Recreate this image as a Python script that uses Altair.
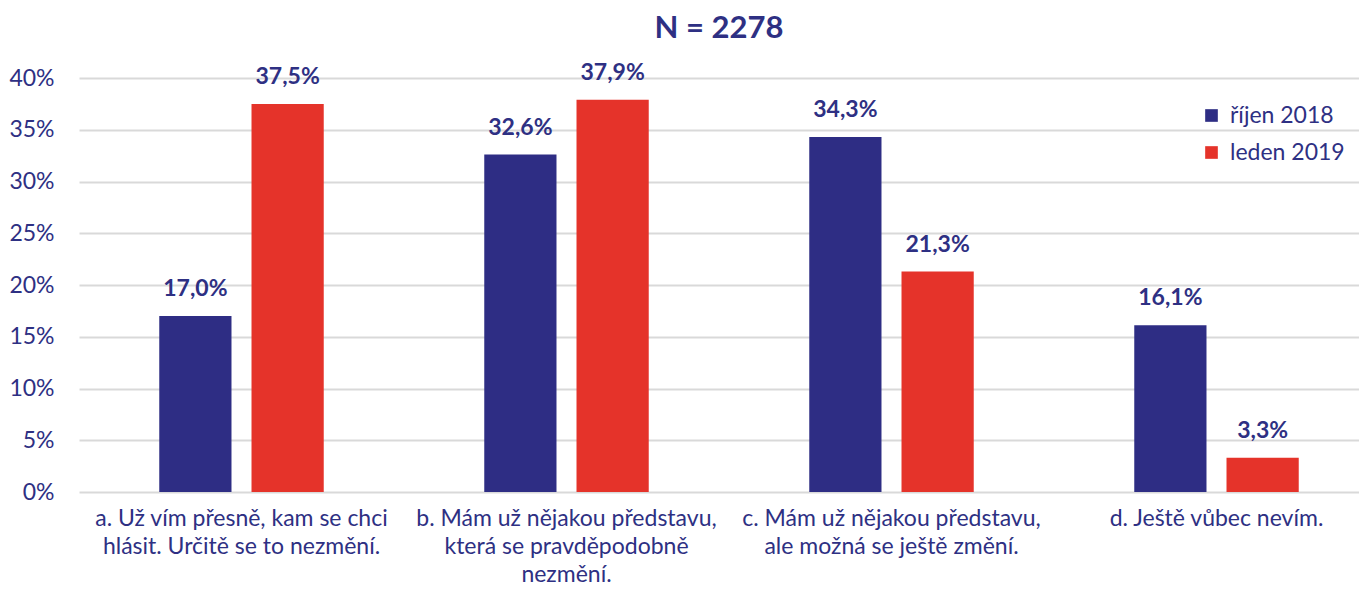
import altair as alt
import pandas as pd

categories = [
    "a. Už vím přesně, kam se chci\nhlásit. Určitě se to nezmění.",
    "b. Mám už nějakou představu,\nkterá se pravděpodobně\nnezmění.",
    "c. Mám už nějakou představu,\nale možná se ještě změní.",
    "d. Ještě vůbec nevím.",
]
series = ["říjen 2018", "leden 2019"]
values_2018 = [17.0, 32.6, 34.3, 16.1]
values_2019 = [37.5, 37.9, 21.3, 3.3]
y_ticks = [0, 5, 10, 15, 20, 25, 30, 35, 40]

rows = []
for c, v in zip(categories, values_2018):
    rows.append({"cat": c, "series": series[0], "value": v})
for c, v in zip(categories, values_2019):
    rows.append({"cat": c, "series": series[1], "value": v})
df = pd.DataFrame(rows)

BLUE = "#2e2d84"
RED = "#e5332a"
TXT = "#2e3083"
FONT = "Lato"

x_enc = alt.X(
    "cat:N",
    sort=categories,
    scale=alt.Scale(paddingInner=0, paddingOuter=0, range=[0, 1300]),
    axis=alt.Axis(
        title=None,
        labelAngle=0,
        labelExpr="split(datum.label, '\\n')",
        labelFontSize=23,
        labelColor=TXT,
        labelFont=FONT,
        labelLineHeight=28,
        labelPadding=15,
        ticks=False,
        domain=False,
        labelLimit=400,
    ),
)
xoff = alt.XOffset(
    "series:N",
    sort=series,
    scale=alt.Scale(paddingInner=0.217, paddingOuter=0.87),
)
y_enc = alt.Y(
    "value:Q",
    scale=alt.Scale(domain=[0, 40], nice=False),
    axis=alt.Axis(
        title=None,
        values=y_ticks,
        labelExpr="datum.value + '%'",
        labelFontSize=23,
        labelColor=TXT,
        labelFont=FONT,
        labelPadding=25,
        ticks=False,
        domain=False,
        gridColor="#d9d9d9",
        gridWidth=2,
    ),
)

bars = alt.Chart(df).mark_bar().encode(
    x=x_enc,
    xOffset=xoff,
    y=y_enc,
    color=alt.Color(
        "series:N",
        sort=series,
        scale=alt.Scale(domain=series, range=[BLUE, RED]),
        legend=alt.Legend(
            title=None,
            orient="none",
            legendX=1121,
            legendY=26,
            symbolType="square",
            symbolSize=160,
            symbolStrokeWidth=0,
            labelFontSize=23,
            labelColor=TXT,
            labelFont=FONT,
            labelOffset=7,
            rowPadding=13,
        ),
    ),
)

labels = alt.Chart(df).transform_calculate(
    lab="replace(format(datum.value, '.1f'), '.', ',') + '%'"
).mark_text(
    fontSize=23, fontWeight="bold", color=TXT, font=FONT, baseline="alphabetic", dy=-20
).encode(
    x=alt.X("cat:N", sort=categories),
    xOffset=alt.XOffset("series:N", sort=series),
    y="value:Q",
    text="lab:N",
)

chart = (
    alt.layer(bars, labels)
    .properties(
        width=1280,
        height=414,
        autosize=alt.AutoSizeParams(type="none"),
        padding={"top": 70, "left": 71, "right": 0, "bottom": 97},
        title=alt.Title(
            "N = 2278",
            fontSize=31,
            font=FONT,
            fontWeight="bold",
            color=TXT,
            offset=17,
            anchor="middle",
        ),
    )
    .configure_view(stroke=None)
)

chart.save("out.html", embed_options={"renderer": "svg", "actions": False})
